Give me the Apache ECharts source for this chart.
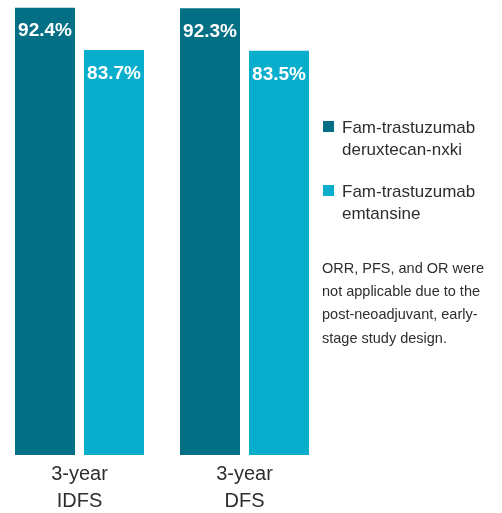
<!DOCTYPE html>
<html>
<head>
<meta charset="utf-8">
<script src="https://cdn.jsdelivr.net/npm/echarts@6/dist/echarts.min.js"></script>
<style>
html,body{margin:0;padding:0;background:#fff;}
#chart{width:502px;height:513px;}
</style>
</head>
<body>
<div id="chart"></div>
<script>
const categories = ['3-year\nIDFS', '3-year\nDFS'];
const seriesNames = ['Fam-trastuzumab\nderuxtecan-nxki', 'Fam-trastuzumab\nemtansine'];
const deruxtecanValues = [92.4, 92.3];
const emtansineValues = [83.7, 83.5];
const noteText = 'ORR, PFS, and OR were\nnot applicable due to the\npost-neoadjuvant, early-\nstage study design.';

const FONT = "'Liberation Sans', Arial, sans-serif";
const DARK = '#036f84';
const LIGHT = '#0aaecd';
const TEXT = '#2e2e2e';

const legendIcon = 'path://M0,0h11v11h-11z M0,35.99h0.01v0.01h-0.01z';

const chart = echarts.init(document.getElementById('chart'), null, {renderer: 'canvas'});
chart.setOption({
  animation: false,
  backgroundColor: '#ffffff',
  grid: {left: -3, width: 330, top: -29, bottom: 58, containLabel: false, outerBoundsMode: 'none'},
  xAxis: {
    type: 'category',
    data: categories,
    axisLine: {show: false},
    axisTick: {show: false},
    axisLabel: {
      color: TEXT, fontFamily: FONT, fontSize: 20, lineHeight: 27, margin: 6
    }
  },
  yAxis: {type: 'value', min: 0, max: 100, show: false, splitLine: {show: false}},
  legend: {
    orient: 'vertical',
    left: 323,
    top: 117,
    padding: 0,
    itemWidth: 11,
    itemHeight: 36,
    itemGap: 20,
    icon: legendIcon,
    textStyle: {color: TEXT, fontFamily: FONT, fontSize: 17, lineHeight: 22, padding: [0, 0, 0, 3]},
    data: seriesNames
  },
  graphic: [{
    type: 'text',
    left: 322,
    top: 257,
    style: {text: noteText, fill: TEXT, font: "14.5px " + FONT, lineHeight: 23.3}
  }],
  series: [
    {
      name: seriesNames[0], type: 'bar', data: deruxtecanValues,
      barWidth: 60, barGap: '15%',
      itemStyle: {color: DARK},
      label: {show: true, position: 'insideTop', distance: 13, formatter: '{c}%',
        color: '#fff', fontFamily: FONT, fontWeight: 'bold', fontSize: 19, lineHeight: 20}
    },
    {
      name: seriesNames[1], type: 'bar', data: emtansineValues,
      barWidth: 60, barGap: '15%',
      itemStyle: {color: LIGHT},
      label: {show: true, position: 'insideTop', distance: 14, formatter: '{c}%',
        color: '#fff', fontFamily: FONT, fontWeight: 'bold', fontSize: 19, lineHeight: 20}
    }
  ]
});
</script>
</body>
</html>
